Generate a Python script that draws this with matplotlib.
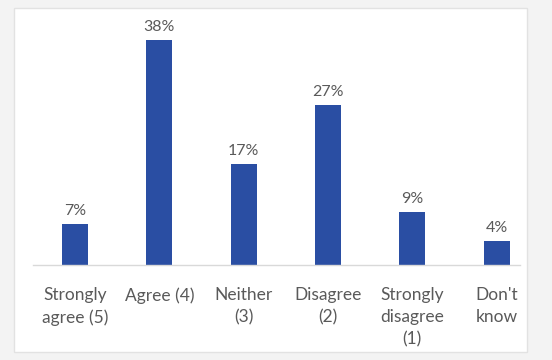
import matplotlib.pyplot as plt
from matplotlib.patches import Rectangle

categories = ["Strongly\nagree (5)", "Agree (4)", "Neither\n(3)", "Disagree\n(2)",
              "Strongly\ndisagree\n(1)", "Don't\nknow"]
values = [7, 38, 17, 27, 9, 4]

W, H = 552, 360
fig = plt.figure(figsize=(W / 100, H / 100), dpi=100)
fig.patch.set_facecolor("#f3f3f3")

# cadre blanc du graphique
fig.patches.append(Rectangle((14 / W, 1 - 352 / H), (527 - 14) / W, (352 - 8) / H,
                             transform=fig.transFigure, facecolor="white",
                             edgecolor="#e2e2e2", lw=1, zorder=-5))

ax = fig.add_axes([32.8 / W, 1 - 265 / H, 506 / W, 237 / H])
ax.set_facecolor("none")

x = range(len(categories))
bars = ax.bar(x, values, width=0.31, color="#2a4ea3", zorder=2)

for b, v in zip(bars, values):
    ax.text(b.get_x() + b.get_width() / 2, v + 1.0, f"{v}%", ha="center", va="bottom",
            fontsize=11.5, color="#5a5a5a", family="Lato")

ax.set_xlim(-0.5, len(categories) - 0.5)
ax.set_ylim(0, 40)
ax.set_xticks(list(x))
ax.set_xticklabels(categories, fontsize=12.5, color="#5a5a5a", family="Lato", linespacing=1.45)
ax.tick_params(axis="x", length=0, pad=16)
ax.set_yticks([])

for s in ["top", "right", "left"]:
    ax.spines[s].set_visible(False)
ax.spines["bottom"].set_color("#d9d9d9")
ax.spines["bottom"].set_linewidth(1)
ax.spines["bottom"].set_bounds(-0.5, 5.28)

fig.savefig("out.png", dpi=100)
